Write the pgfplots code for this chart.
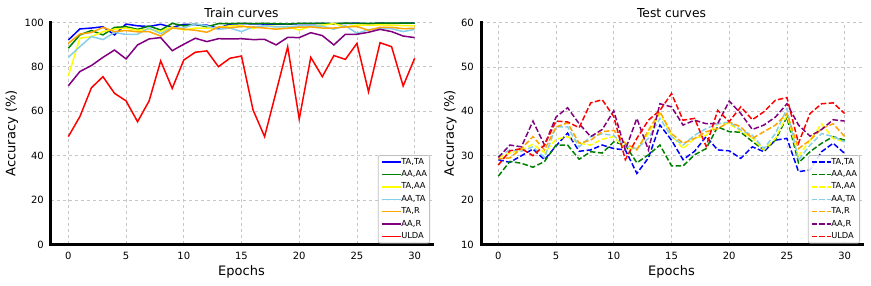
\documentclass[border=0pt]{standalone}
\usepackage{pgfplots}
\pgfplotsset{compat=1.18}
\usepackage{pgfplotstable}
\usepackage{fontspec}
\setmainfont{DejaVu Sans}
\definecolor{mblue}{RGB}{0,0,255}
\definecolor{mgreen}{RGB}{0,128,0}
\definecolor{myellow}{RGB}{255,255,0}
\definecolor{mskyblue}{RGB}{135,206,235}
\definecolor{morange}{RGB}{255,165,0}
\definecolor{mpurple}{RGB}{128,0,128}
\definecolor{mred}{RGB}{255,0,0}

\pgfplotstableread{
e tata aaaa taaa aata tar aar ulda
0 92.1 88.4 75.9 84.3 90.6 71.5 48.6
1 97.1 94.4 92.9 89.1 94.8 77.9 57.6
2 97.5 96.4 93.6 93.7 95.5 80.6 70.6
3 98.1 94.4 95.9 92.3 97.8 84.3 75.6
4 94.4 97.8 97.0 95.5 95.9 87.6 68.1
5 99.3 98.1 97.5 94.6 96.4 83.6 64.7
6 98.5 96.9 96.5 94.7 95.8 89.9 55.3
7 98.2 98.4 97.0 97.5 95.9 92.6 64.7
8 99.2 96.6 96.0 95.0 93.9 93.2 82.7
9 97.8 99.6 98.0 97.5 97.5 87.3 70.3
10 99.2 98.5 96.6 97.5 97.0 90.2 83.1
11 99.0 99.3 97.5 99.4 96.5 92.9 86.6
12 98.8 98.0 97.4 98.5 95.6 91.4 87.2
13 97.4 99.5 97.8 96.9 98.0 92.7 80.1
14 99.3 99.5 98.5 97.5 97.6 92.6 83.9
15 99.5 99.6 98.6 95.9 98.2 92.7 84.9
16 99.4 99.5 97.3 98.0 97.9 92.3 60.6
17 99.3 99.6 98.6 98.5 97.5 92.4 48.6
18 99.3 99.4 98.2 98.0 97.0 89.9 68.8
19 99.2 99.3 98.0 98.0 97.4 93.3 89.1
20 99.5 99.6 96.6 98.5 97.9 93.2 56.5
21 99.5 99.6 98.3 98.5 98.0 95.4 84.3
22 99.6 99.6 98.8 98.3 97.5 94.1 75.6
23 99.4 99.5 99.5 97.0 97.5 89.9 85.1
24 99.6 99.7 98.0 98.6 98.0 94.7 83.4
25 99.7 99.6 98.8 95.1 98.2 94.7 90.6
26 99.4 99.6 98.8 96.8 96.5 95.6 68.8
27 99.7 99.7 98.9 97.2 97.8 96.9 90.9
28 99.6 99.7 98.8 97.2 97.8 95.9 89.1
29 99.7 99.7 98.6 95.9 97.2 93.9 71.4
30 99.7 99.7 98.5 96.9 97.4 93.2 83.9
}\traintable

\pgfplotstableread{
e tata aaaa taaa aata tar aar ulda
0 29.1 25.4 29.6 29.9 29.3 29.6 27.9
1 28.5 28.7 30.6 31.3 29.5 32.4 31.1
2 30.0 28.3 31.3 31.0 31.6 32.0 31.6
3 31.5 27.4 32.6 32.0 34.3 37.8 30.0
4 29.1 28.7 30.7 29.6 31.3 32.4 32.4
5 32.2 32.4 33.7 36.5 36.5 38.7 37.8
6 35.1 32.4 34.3 36.5 37.4 40.8 37.6
7 31.0 29.2 32.8 32.0 32.8 37.2 36.3
8 31.3 30.9 32.4 34.3 33.5 34.3 41.9
9 32.4 30.6 33.7 34.9 35.4 35.9 42.6
10 31.6 33.1 34.3 34.6 35.7 40.1 38.8
11 31.3 32.4 31.6 32.1 32.8 31.3 29.1
12 26.0 28.4 31.6 31.6 31.3 38.4 33.9
13 29.5 30.2 35.0 33.9 35.7 31.3 38.0
14 36.9 32.4 39.5 38.4 39.9 41.7 40.2
15 33.5 27.7 34.6 34.3 35.0 41.0 44.0
16 29.1 27.7 31.6 32.4 32.8 36.9 38.0
17 31.0 30.2 33.9 34.6 33.9 38.0 38.4
18 34.3 31.6 34.6 36.1 35.4 37.2 32.1
19 31.3 36.5 37.2 37.2 36.1 37.2 40.2
20 31.1 35.4 37.2 37.6 37.6 42.3 37.7
21 29.4 35.3 35.5 35.8 36.5 39.5 41.0
22 32.0 33.2 34.0 34.6 33.9 35.9 38.1
23 30.9 31.3 31.3 31.6 35.4 36.9 39.9
24 33.5 33.5 33.9 35.0 36.9 38.7 42.5
25 33.9 38.7 39.1 40.6 39.5 41.7 43.1
26 26.4 28.4 29.9 29.0 31.6 36.9 32.8
27 26.8 30.9 33.5 32.4 33.5 34.4 39.5
28 30.9 32.8 37.2 35.0 36.1 35.9 41.7
29 32.8 34.3 33.9 34.3 37.2 38.1 41.9
30 30.5 33.5 33.1 33.1 34.3 37.8 39.5
}\testtable

\pgfplotsset{
  myaxis/.style={
    scale only axis,
    width=381pt, height=222pt,
    xmin=-1.5, xmax=31.5,
    xtick={0,5,...,30},
    axis lines=left,
    axis line style={-, line width=3pt, black, line cap=rect},
    major tick length=0pt,
    grid=major,
    major grid style={dashed, gray!45, line width=0.8pt},
    /pgf/number format/assume math mode=true,
    tick label style={font=\fontsize{10}{12}\selectfont},
    xticklabel style={inner sep=0pt, anchor=north, yshift=-7.5pt},
    yticklabel style={inner sep=0pt, anchor=east, xshift=-7pt},
    label style={font=\fontsize{13}{15}\selectfont},
    xlabel style={at={(axis description cs:0.5,0)}, anchor=base, inner sep=0pt, yshift=-31.5pt},
    every axis title shift=0pt,
    title style={font=\fontsize{12.3}{14}\selectfont, at={(axis description cs:0.5,1)}, anchor=base, inner sep=0pt, yshift=5.3pt},
    legend style={at={(axis description cs:1,0)}, anchor=south east, xshift=-2pt, yshift=1pt,
      font=\fontsize{8.3}{10}\selectfont, draw=black!25, line width=0.8pt, rounded corners=2pt,
      fill=white, fill opacity=0.85, draw opacity=1, text opacity=1,
      inner sep=2.5pt, row sep=4.2pt,
      nodes={inner sep=0pt, text height=6.2pt, text depth=2pt, anchor=west},
      /tikz/every even column/.append style={column sep=3pt}},
    legend cell align=left,
    legend image code/.code={\draw[##1, line width=1.5pt, sharp corners] (0pt,0pt) -- (19pt,0pt);},
    every axis plot/.append style={mark=none, line width=1.5pt},
  },
  trainplot/.style={solid},
  testplot/.style={dash pattern=on 5.5pt off 2.4pt},
}

\begin{document}
\begin{tikzpicture}
\path[use as bounding box] (0,0) rectangle (871pt,286pt);
\begin{axis}[myaxis, at={(51pt,41.5pt)}, anchor=south west,
  ymin=0, ymax=100, ytick={0,20,...,100},
  title={Train curves}, xlabel={Epochs},
  ylabel={Accuracy (\%)},
  ylabel style={at={(axis description cs:-0.0932,0.5)}, anchor=base, inner sep=0pt, rotate=0}]
\addplot[color=mblue, trainplot] table[x=e, y=tata] {\traintable};
\addlegendentry{TA,TA}
\addplot[color=mgreen, trainplot] table[x=e, y=aaaa] {\traintable};
\addlegendentry{AA,AA}
\addplot[color=myellow, trainplot] table[x=e, y=taaa] {\traintable};
\addlegendentry{TA,AA}
\addplot[color=mskyblue, trainplot] table[x=e, y=aata] {\traintable};
\addlegendentry{AA,TA}
\addplot[color=morange, trainplot] table[x=e, y=tar] {\traintable};
\addlegendentry{TA,R}
\addplot[color=mpurple, trainplot] table[x=e, y=aar] {\traintable};
\addlegendentry{AA,R}
\addplot[color=mred, trainplot] table[x=e, y=ulda] {\traintable};
\addlegendentry{ULDA}
\end{axis}
\begin{axis}[myaxis, at={(481pt,41.5pt)}, anchor=south west,
  ymin=10, ymax=60, ytick={10,20,...,60},
  title={Test curves}, xlabel={Epochs},
  ylabel={Accuracy (\%)},
  ylabel style={at={(axis description cs:-0.0709,0.5)}, anchor=base, inner sep=0pt, rotate=0}]
\addplot[color=mblue, testplot] table[x=e, y=tata] {\testtable};
\addlegendentry{TA,TA}
\addplot[color=mgreen, testplot] table[x=e, y=aaaa] {\testtable};
\addlegendentry{AA,AA}
\addplot[color=myellow, testplot] table[x=e, y=taaa] {\testtable};
\addlegendentry{TA,AA}
\addplot[color=mskyblue, testplot] table[x=e, y=aata] {\testtable};
\addlegendentry{AA,TA}
\addplot[color=morange, testplot] table[x=e, y=tar] {\testtable};
\addlegendentry{TA,R}
\addplot[color=mpurple, testplot] table[x=e, y=aar] {\testtable};
\addlegendentry{AA,R}
\addplot[color=mred, testplot] table[x=e, y=ulda] {\testtable};
\addlegendentry{ULDA}
\end{axis}
\end{tikzpicture}
\end{document}
